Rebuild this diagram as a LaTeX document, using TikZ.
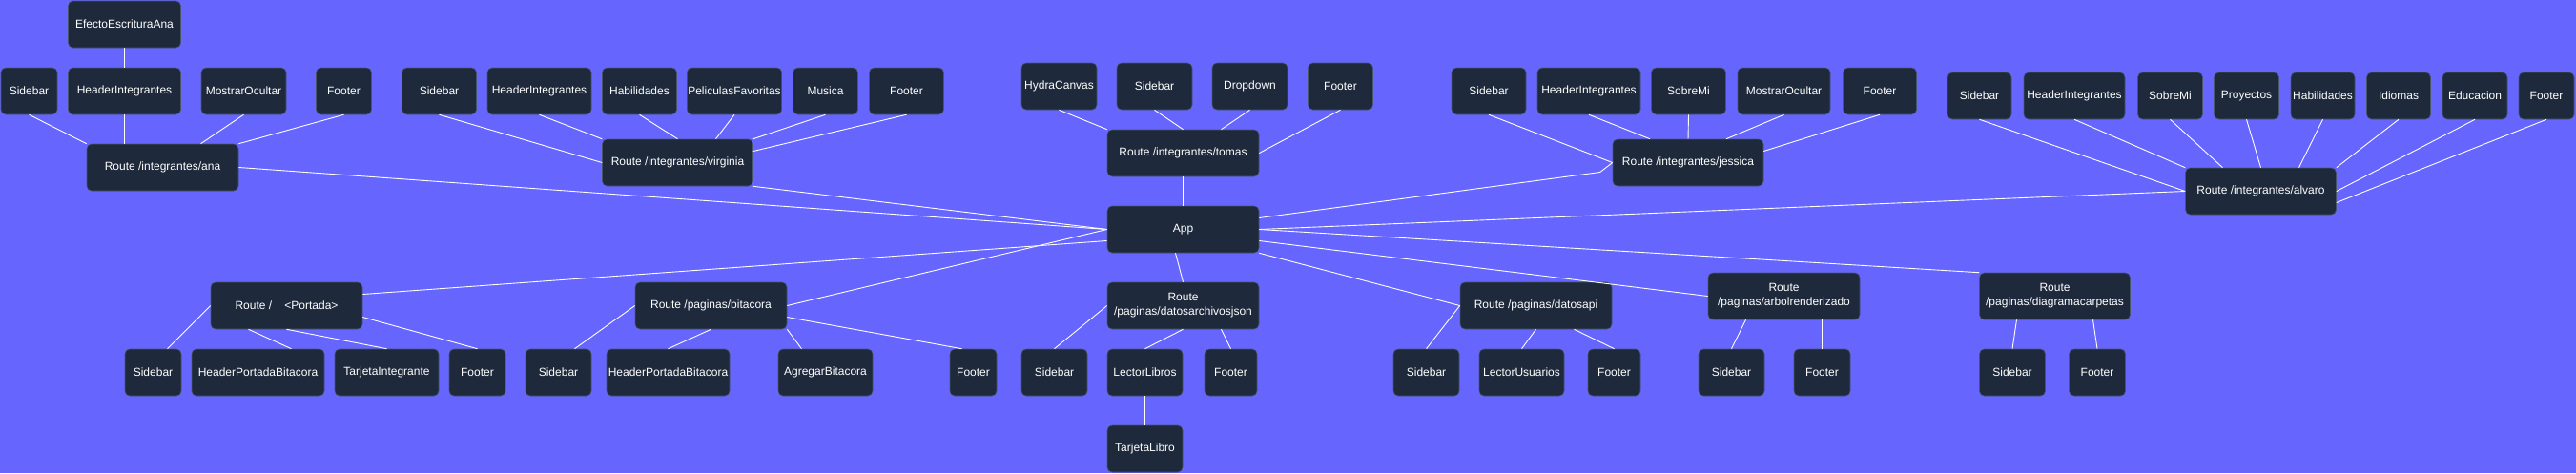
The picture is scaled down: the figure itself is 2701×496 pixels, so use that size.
\documentclass[tikz,border=0pt]{standalone}
\usepackage{fontspec}
\setmainfont{Liberation Sans}
\usetikzlibrary{positioning,calc}
\definecolor{bgblue}{RGB}{102,102,255}
\definecolor{boxfill}{RGB}{30,41,59}
\definecolor{boxline}{RGB}{71,85,105}

\begin{document}
\begin{tikzpicture}[x=1pt, y=-1pt,
    comp/.style={rectangle, rounded corners=5pt, draw=boxline, line width=0.6pt, fill=boxfill,
      text=white, font=\fontsize{12}{15}\selectfont, align=center,
      minimum height=49pt, inner xsep=1pt, inner ysep=0pt},
    link/.style={draw=white, line width=0.9pt}]
    \fill[bgblue] (0,0) rectangle (2701,496);
    \useasboundingbox (0,0) rectangle (2701,496);

    \node[comp, minimum width=159pt] (app) at (1240.5,240.5) {App};

    \node[comp, minimum width=118pt] (efecto) at (130.5,25.5) {EfectoEscrituraAna};
    \node[comp, minimum width=59pt] (anaSb) at (30.5,95.5) {Sidebar};
    \node[comp, minimum width=118pt] (anaHi) at (130.5,95.5) {HeaderIntegrantes};
    \node[comp, minimum width=89pt] (anaMo) at (255.5,95.5) {MostrarOcultar};
    \node[comp, minimum width=58pt] (anaFt) at (360.5,95.5) {Footer};
    \node[comp, minimum width=159pt] (ana) at (170.5,175.5) {Route /integrantes/ana};

    \node[comp, minimum width=78pt] (virSb) at (460.5,95.5) {Sidebar};
    \node[comp, minimum width=109pt] (virHi) at (565.5,95.5) {HeaderIntegrantes};
    \node[comp, minimum width=78pt] (virHa) at (670.5,95.5) {Habilidades};
    \node[comp, minimum width=99pt] (virPf) at (770,95.5) {PeliculasFavoritas};
    \node[comp, minimum width=68pt] (virMu) at (865.5,95.5) {Musica};
    \node[comp, minimum width=78pt] (virFt) at (950.5,95.5) {Footer};
    \node[comp, minimum width=158pt] (vir) at (710.5,170.5) {Route /integrantes/virginia};

    \node[comp, minimum width=79pt] (tomHc) at (1110.5,90.5) {HydraCanvas};
    \node[comp, minimum width=79pt] (tomSb) at (1210.5,90.5) {Sidebar};
    \node[comp, minimum width=79pt] (tomDd) at (1310.5,90.5) {Dropdown};
    \node[comp, minimum width=68pt] (tomFt) at (1405.5,90.5) {Footer};
    \node[comp, minimum width=159pt] (tom) at (1240.5,160.5) {Route /integrantes/tomas};

    \node[comp, minimum width=78pt] (jesSb) at (1561,95.5) {Sidebar};
    \node[comp, minimum width=108pt] (jesHi) at (1666,95.5) {HeaderIntegrantes};
    \node[comp, minimum width=78pt] (jesSm) at (1770.5,95.5) {SobreMi};
    \node[comp, minimum width=97pt] (jesMo) at (1870.5,95.5) {MostrarOcultar};
    \node[comp, minimum width=77pt] (jesFt) at (1971,95.5) {Footer};
    \node[comp, minimum width=158pt] (jes) at (1770,170.5) {Route /integrantes/jessica};

    \node[comp, minimum width=67pt] (alvSb) at (2075.5,100.5) {Sidebar};
    \node[comp, minimum width=106pt] (alvHi) at (2175,100.5) {HeaderIntegrantes};
    \node[comp, minimum width=68pt] (alvSm) at (2275.5,100.5) {SobreMi};
    \node[comp, minimum width=68pt] (alvPr) at (2355.5,100.5) {Proyectos};
    \node[comp, minimum width=67pt] (alvHa) at (2435.5,100.5) {Habilidades};
    \node[comp, minimum width=67pt] (alvId) at (2515,100.5) {Idiomas};
    \node[comp, minimum width=68pt] (alvEd) at (2595,100.5) {Educacion};
    \node[comp, minimum width=58pt] (alvFt) at (2670,100.5) {Footer};
    \node[comp, minimum width=158pt] (alv) at (2370.5,200.5) {Route /integrantes/alvaro};

    \node[comp, minimum width=159pt] (por) at (300.5,320.5) {Route /\hspace{1.1em}<Portada>};
    \node[comp, minimum width=59pt] (porSb) at (160.5,390.5) {Sidebar};
    \node[comp, minimum width=139pt] (porHp) at (270.5,390.5) {HeaderPortadaBitacora};
    \node[comp, minimum width=109pt] (porTi) at (405.5,390.5) {TarjetaIntegrante};
    \node[comp, minimum width=59pt] (porFt) at (500.5,390.5) {Footer};

    \node[comp, minimum width=159pt] (bit) at (745.5,320.5) {Route /paginas/bitacora};
    \node[comp, minimum width=69pt] (bitSb) at (585.5,390.5) {Sidebar};
    \node[comp, minimum width=129pt] (bitHp) at (700.5,390.5) {HeaderPortadaBitacora};
    \node[comp, minimum width=99pt] (bitAb) at (865.5,390.5) {AgregarBitacora};
    \node[comp, minimum width=49pt] (bitFt) at (1020.5,390.5) {Footer};

    \node[comp, minimum width=159pt] (json) at (1240.5,320.5) {Route\\/paginas/datosarchivosjson};
    \node[comp, minimum width=69pt] (jsonSb) at (1105.5,390.5) {Sidebar};
    \node[comp, minimum width=79pt] (jsonLl) at (1200.5,390.5) {LectorLibros};
    \node[comp, minimum width=55pt] (jsonFt) at (1290.5,390.5) {Footer};
    \node[comp, minimum width=79pt] (tl) at (1200.5,470.5) {TarjetaLibro};

    \node[comp, minimum width=159pt] (api) at (1610.5,320.5) {Route /paginas/datosapi};
    \node[comp, minimum width=69pt] (apiSb) at (1495.5,390.5) {Sidebar};
    \node[comp, minimum width=89pt] (apiLu) at (1595.5,390.5) {LectorUsuarios};
    \node[comp, minimum width=55pt] (apiFt) at (1692.5,390.5) {Footer};

    \node[comp, minimum width=159pt] (arb) at (1870.5,310.5) {Route\\/paginas/arbolrenderizado};
    \node[comp, minimum width=69pt] (arbSb) at (1815.5,390.5) {Sidebar};
    \node[comp, minimum width=59pt] (arbFt) at (1910.5,390.5) {Footer};

    \node[comp, minimum width=158pt] (dia) at (2154.5,310.5) {Route\\/paginas/diagramacarpetas};
    \node[comp, minimum width=69pt] (diaSb) at (2110,390.5) {Sidebar};
    \node[comp, minimum width=59pt] (diaFt) at (2199,390.5) {Footer};

    \draw[link] (efecto) -- (anaHi);
    \draw[link] (anaSb.south) -- (ana.north west);
    \draw[link] (anaHi.south) -- ([xshift=-40pt]ana.north);
    \draw[link] (anaMo.south) -- ([xshift=40pt]ana.north);
    \draw[link] (anaFt.south) -- (ana.north east);
    \draw[link] (ana.east) -- (app.west);

    \draw[link] (virSb.south) -- (vir.west);
    \draw[link] (virHi.south) -- (vir.north west);
    \draw[link] (virHa.south) -- (vir.north);
    \draw[link] (virPf.south) -- ([xshift=40pt]vir.north);
    \draw[link] (virMu.south) -- (vir.north east);
    \draw[link] (virFt.south) -- ([yshift=12pt]vir.east);
    \draw[link] (vir.south east) -- (app.west);

    \draw[link] (tomHc.south) -- (tom.north west);
    \draw[link] (tomSb.south) -- (tom.north);
    \draw[link] (tomDd.south) -- ([xshift=40pt]tom.north);
    \draw[link] (tomFt.south) -- (tom.east);
    \draw[link] (tom) -- (app);

    \draw[link] (jesSb.south) -- (jes.west);
    \draw[link] (jesHi.south) -- ([xshift=-40pt]jes.north);
    \draw[link] (jesSm.south) -- (jes.north);
    \draw[link] (jesMo.south) -- ([xshift=40pt]jes.north);
    \draw[link] (jesFt.south) -- ([yshift=12pt]jes.east);
    \draw[link] ([yshift=12pt]app.east) -- ([shift={(-13pt,-10pt)}]jes.west) -- (jes.west);

    \draw[link] (alvSb.south) -- (alv.west);
    \draw[link] (alvHi.south) -- (alv.north west);
    \draw[link] (alvSm.south) -- ([xshift=-40pt]alv.north);
    \draw[link] (alvPr.south) -- (alv.north);
    \draw[link] (alvHa.south) -- ([xshift=40pt]alv.north);
    \draw[link] (alvId.south) -- (alv.north east);
    \draw[link] (alvEd.south) -- (alv.east);
    \draw[link] (alvFt.south) -- ([yshift=-12pt]alv.east);
    \draw[link] (app.east) -- (alv.west);

    \draw[link] ([yshift=12pt]por.east) -- ([yshift=-12pt]app.west);
    \draw[link] (bit.east) -- (app.west);
    \draw[link] ([xshift=-8pt]app.south) -- (json.north);
    \draw[link] (app.south east) -- (api.west);
    \draw[link] ([yshift=-12pt]app.east) -- (arb.west);
    \draw[link] (app.east) -- (dia.north west);

    \draw[link] (por.west) -- ([xshift=15pt]porSb.north);
    \draw[link] ([xshift=-40pt]por.south) -- ([xshift=35pt]porHp.north);
    \draw[link] (por.south) -- (porTi.north);
    \draw[link] ([yshift=-12pt]por.east) -- (porFt.north);

    \draw[link] (bit.west) -- ([xshift=17pt]bitSb.north);
    \draw[link] (bit.south) -- (bitHp.north);
    \draw[link] (bit.south east) -- ([xshift=-25pt]bitAb.north);
    \draw[link] ([yshift=-12pt]bit.east) -- ([xshift=-12pt]bitFt.north);

    \draw[link] (json.west) -- (jsonSb.north);
    \draw[link] (json.south) -- (jsonLl.north);
    \draw[link] ([xshift=40pt]json.south) -- (jsonFt.north);
    \draw[link] (jsonLl) -- (tl);

    \draw[link] (api.west) -- (apiSb.north);
    \draw[link] (api.south) -- (apiLu.north);
    \draw[link] ([xshift=40pt]api.south) -- (apiFt.north);

    \draw[link] ([xshift=-40pt]arb.south) -- (arbSb.north);
    \draw[link] ([xshift=40pt]arb.south) -- (arbFt.north);

    \draw[link] ([xshift=-40pt]dia.south) -- (diaSb.north);
    \draw[link] ([xshift=40pt]dia.south) -- (diaFt.north);
\end{tikzpicture}
\end{document}
